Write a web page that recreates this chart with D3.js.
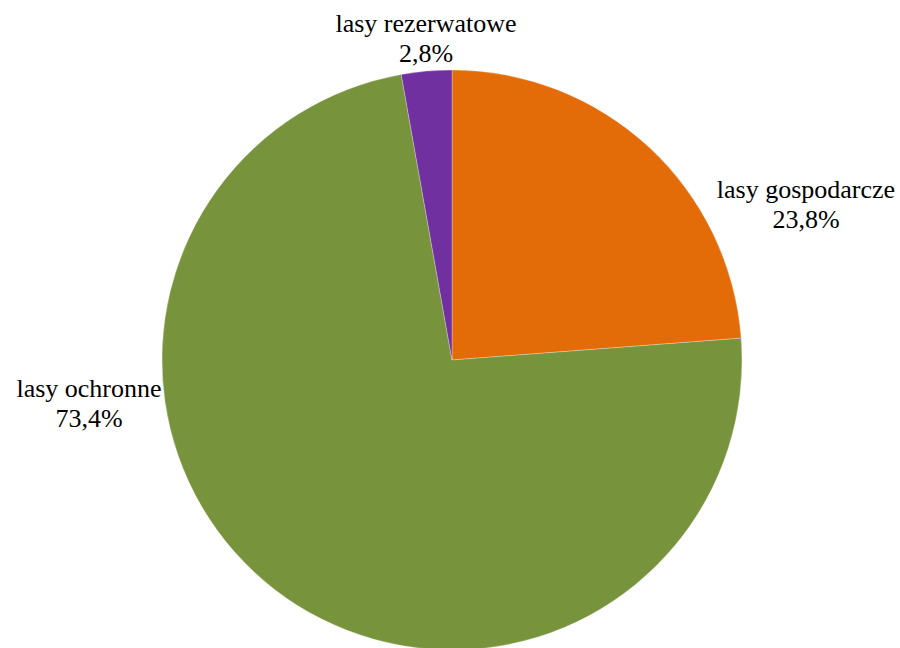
<!DOCTYPE html>
<html>
<head>
<meta charset="utf-8">
<script src="https://cdn.jsdelivr.net/npm/d3@7"></script>
<style>
  html, body { margin: 0; padding: 0; background: #fff; }
  svg { display: block; }
  text.lbl { font-family: "Liberation Serif", "Times New Roman", Times, serif; font-size: 26px; fill: #000; }
</style>
</head>
<body>
<svg id="chart" width="900" height="648"></svg>
<script>
// Forest categories and their share (%)
const categories = ["lasy gospodarcze", "lasy ochronne", "lasy rezerwatowe"];
const values = [23.8, 73.4, 2.8];
const valueLabels = ["23,8%", "73,4%", "2,8%"];
const colors = ["#E36C09", "#77933C", "#7030A0"];

const svg = d3.select("#chart");
const cx = 452, cy = 360, radius = 290;

const data = categories.map((c, i) => ({ name: c, value: values[i], label: valueLabels[i], color: colors[i] }));

const pie = d3.pie().value(d => d.value).sort(null);
const arc = d3.arc().innerRadius(0).outerRadius(radius);
const arcs = pie(data);

const g = svg.append("g").attr("transform", `translate(${cx},${cy})`);

g.selectAll("path")
  .data(arcs)
  .join("path")
  .attr("d", arc)
  .attr("fill", d => d.data.color)
  .attr("stroke", "#ffffff")
  .attr("stroke-opacity", 0.35)
  .attr("stroke-width", 0.8);

// Label anchors (relative to the pie centre), outside each slice
const labelPos = [
  [806 - cx, 198 - cy],
  [89 - cx, 397 - cy],
  [426 - cx, 32 - cy]
];

const labels = g.selectAll("text.lbl")
  .data(arcs)
  .join("text")
  .attr("class", "lbl")
  .attr("text-anchor", "middle");

labels.append("tspan")
  .attr("x", (d, i) => labelPos[i][0])
  .attr("y", (d, i) => labelPos[i][1])
  .text(d => d.data.name);

labels.append("tspan")
  .attr("x", (d, i) => labelPos[i][0])
  .attr("y", (d, i) => labelPos[i][1] + 30)
  .text(d => d.data.label);
</script>
</body>
</html>
